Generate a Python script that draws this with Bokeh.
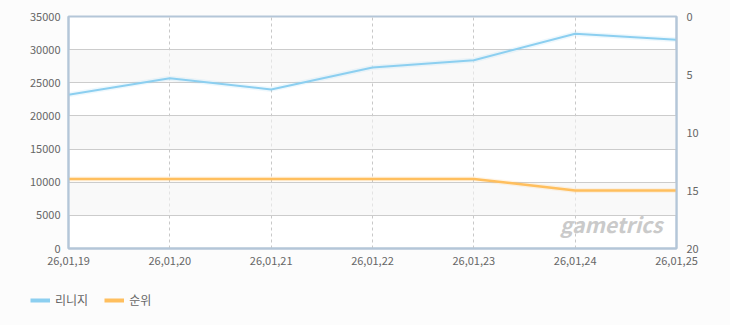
from bokeh.plotting import figure
from bokeh.models import Range1d, LinearAxis, Legend, LegendItem, Label, FixedTicker
from bokeh.layouts import column, row
from bokeh.embed import file_html
from bokeh.resources import INLINE

dates = ["26,01,19", "26,01,20", "26,01,21", "26,01,22", "26,01,23", "26,01,24", "26,01,25"]
lineage = [23200, 25700, 24000, 27300, 28400, 32400, 31500]
rank = [14, 14, 14, 14, 14, 15, 15]
left_ticks = [0, 5000, 10000, 15000, 20000, 25000, 30000, 35000]
right_ticks = [0, 5, 10, 15, 20]
series_names = ["리니지", "순위"]

FONT = "Noto Sans CJK KR"
BLUE = "#8ccff0"
ORANGE = "#ffbf5e"
AXIS = "#b4c6d8"
BG = "#fcfcfc"

xs = list(range(len(dates)))

p = figure(width=730, height=280, output_backend="svg", toolbar_location=None,
           x_range=Range1d(0, len(dates) - 1), y_range=Range1d(0, 35000),
           min_border_left=68, min_border_right=54, min_border_top=16, min_border_bottom=32)
p.extra_y_ranges = {"rank": Range1d(start=20, end=0)}
p.border_fill_color = BG
p.background_fill_color = "#ffffff"
p.outline_line_color = AXIS
p.outline_line_width = 2

p.xaxis.ticker = FixedTicker(ticks=xs)
p.xaxis.major_label_overrides = {i: d for i, d in enumerate(dates)}
p.yaxis.ticker = FixedTicker(ticks=left_ticks)

for ax in [p.xaxis[0], p.yaxis[0]]:
    ax.major_tick_line_color = None
    ax.minor_tick_line_color = None
    ax.axis_line_color = AXIS
    ax.axis_line_width = 2
    ax.major_label_text_font = FONT
    ax.major_label_text_font_size = "11px"
    ax.major_label_text_color = "#666666"
    ax.major_label_standoff = 2

right = LinearAxis(y_range_name="rank", ticker=FixedTicker(ticks=right_ticks))
right.major_tick_line_color = None
right.minor_tick_line_color = None
right.axis_line_color = AXIS
right.axis_line_width = 2
right.major_label_text_font = FONT
right.major_label_text_font_size = "11px"
right.major_label_text_color = "#666666"
right.major_label_standoff = 4
p.add_layout(right, "right")

p.ygrid.grid_line_color = "#cccccc"
p.ygrid.band_fill_color = "#f5f5f5"
p.ygrid.band_fill_alpha = 0.6
p.xgrid.grid_line_color = "#c8c8c8"
p.xgrid.grid_line_dash = "3 3"

wm = Label(x=4.85, y=1400, text="gametrics", text_font=FONT, text_font_size="21px",
           text_font_style="bold italic", text_color="#cacaca", text_baseline="bottom")
p.add_layout(wm)

p.line(xs, lineage, line_color=BLUE, line_width=5, line_alpha=0.15)
p.line(xs, lineage, line_color=BLUE, line_width=2)
p.line(xs, rank, y_range_name="rank", line_color=ORANGE, line_width=5, line_alpha=0.15)
p.line(xs, rank, y_range_name="rank", line_color=ORANGE, line_width=2.5)

# legend strip below the chart
lg = figure(width=730, height=45, output_backend="svg", toolbar_location=None,
            x_range=Range1d(0, 1), y_range=Range1d(0, 1),
            min_border_left=0, min_border_right=0, min_border_top=0, min_border_bottom=0)
lg.axis.visible = False
lg.grid.visible = False
lg.outline_line_color = None
lg.border_fill_color = BG
lg.background_fill_color = BG
d1 = lg.line([-5, -4], [-5, -4], line_color=BLUE, line_width=4)
d2 = lg.line([-5, -4], [-5, -4], line_color=ORANGE, line_width=4)

legend = Legend(items=[LegendItem(label=series_names[0], renderers=[d1]),
                       LegendItem(label=series_names[1], renderers=[d2])],
                orientation="horizontal", location=(30, 17))
legend.label_text_font = FONT
legend.label_text_font_size = "12px"
legend.label_text_color = "#666666"
legend.background_fill_alpha = 0
legend.border_line_color = None
legend.glyph_width = 20
legend.glyph_height = 14
legend.spacing = 16
legend.label_standoff = 5
legend.margin = 0
legend.padding = 0
legend.label_height = 14
lg.add_layout(legend)

layout = column(p, row(lg, spacing=0), spacing=0)
layout.styles = {"background-color": BG}
open("out.html", "w").write(file_html(layout, INLINE))
